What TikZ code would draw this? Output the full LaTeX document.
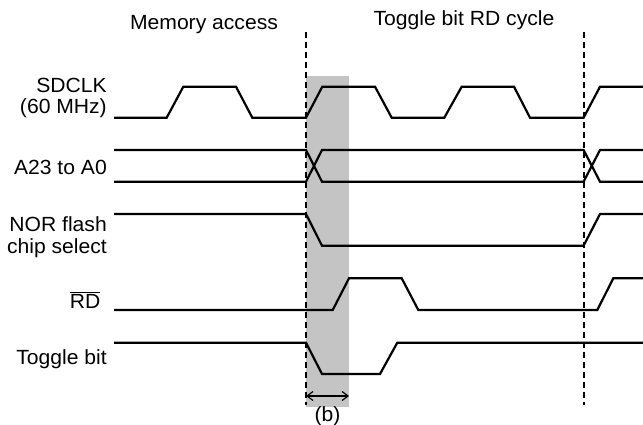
\documentclass[tikz,border=0pt]{standalone}
\usepackage{fontspec}
\setmainfont[FakeStretch=1.03]{Liberation Sans}
\usetikzlibrary{arrows.meta}
\definecolor{bandgray}{gray}{0.77}
\tikzset{
  sig/.style={line width=2.2pt, line join=miter},
  guide/.style={line width=1.8pt, dash pattern=on 6pt off 4pt},
  lbl/.style={inner sep=0pt, anchor=base east, align=right, font=\fontsize{20.5}{21}\selectfont},
  ttl/.style={inner sep=0pt, anchor=base, font=\fontsize{20.5}{21}\selectfont},
  dim/.style={line width=1.2pt, {Straight Barb[length=6pt,width=9pt]}-{Straight Barb[length=6pt,width=9pt]}}
}
\begin{document}
\begin{tikzpicture}[x=1pt,y=-1pt]
\useasboundingbox (0,0) rectangle (643,425);
% shaded window (b)
\fill[bandgray] (306,76) rectangle (349,406.5);
% titles
\node[ttl] (tmem) at (204,30) {Memory access};
\node[ttl] (ttog) at (464,26) {Toggle bit RD cycle};
% labels
\node[lbl] (lclk) at (107,113.5) {SDCLK\\(60 MHz)};
\node[lbl] (ladr) at (107,174.5) {A23 to A0};
\node[lbl] (lcs) at (107,253) {NOR flash\\chip select};
\node[lbl] (lrd) at (100.5,308) {$\overline{\mbox{RD}}$};
\node[lbl] (ltog) at (107,364) {Toggle bit};
% dashed guides
\coordinate (g1t) at (306,32);  \coordinate (g1b) at (306,405);
\coordinate (g2t) at (583.6,32); \coordinate (g2b) at (583.6,405);
\draw[guide] (g1t) -- (g1b);
\draw[guide] (g2t) -- (g2b);
% SDCLK
\draw[sig] (114,117.7) -- (166.7,117.7) -- (183.3,86.7) -- (236,86.7) -- (252.3,117.7)
  -- (306,117.7) -- (322.3,86.7) -- (375,86.7) -- (391.7,117.7) -- (444.3,117.7)
  -- (461.7,86.7) -- (514,86.7) -- (530,117.7) -- (583.6,117.7) -- (600,86.7) -- (643,86.7);
% A23 to A0
\draw[sig] (114,150) -- (306,150) -- (322,181.7) -- (583.6,181.7) -- (600,150) -- (643,150);
\draw[sig] (114,181.7) -- (306,181.7) -- (322,150) -- (583.6,150) -- (600,181.7) -- (643,181.7);
% chip select
\draw[sig] (114,214) -- (306,214) -- (322,245.7) -- (583.6,245.7) -- (600,214) -- (643,214);
% RD
\draw[sig] (114,310) -- (332.7,310) -- (349,278.3) -- (401.7,278.3) -- (418.3,310)
  -- (597.3,310) -- (613.3,278.3) -- (643,278.3);
% Toggle bit
\draw[sig] (114,342.7) -- (306,342.7) -- (322,374) -- (380,374) -- (397.3,342.7) -- (643,342.7);
% dimension (b)
\coordinate (da) at (306,396);
\coordinate (db) at (349,396);
\draw[dim] (da) -- (db);
\node[ttl] (lb) at (327.5,421) {(b)};
\end{tikzpicture}
\end{document}
